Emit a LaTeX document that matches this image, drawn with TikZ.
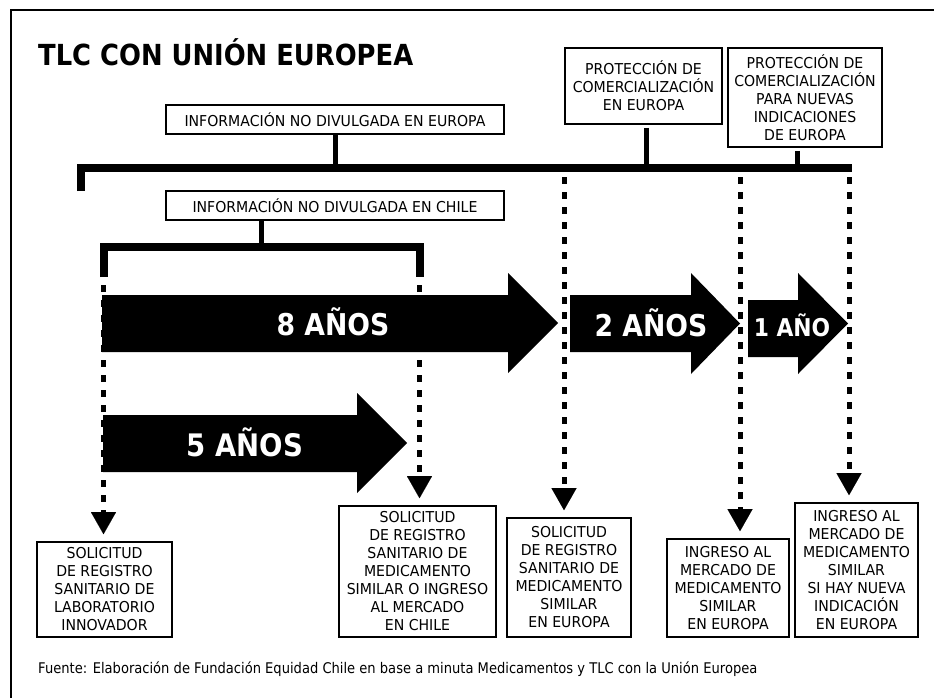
\documentclass[tikz,border=0pt]{standalone}
\usepackage{fontspec}
\setmainfont{DejaVu Sans}[FakeStretch=0.94]
\newfontfamily\narrowfont{DejaVu Sans}[FakeStretch=0.89]
\usetikzlibrary{arrows.meta,calc}
\begin{document}
\begin{tikzpicture}[x=1pt,y=-1pt,
  box/.style={draw,line width=1.6pt,inner sep=0pt,align=center,font=\fontsize{15}{18}\selectfont},
  bar/.style={line width=8pt,line join=miter},
  stem/.style={line width=5pt},
  dotline/.style={line width=5pt,dash pattern=on 7pt off 8pt,
     -{Triangle[width=25pt,length=22pt,line width=0.01pt]},shorten >=7pt},
  bigarrow/.style={fill=black},
  arrowlabel/.style={text=white,anchor=base,inner sep=0pt}]
\useasboundingbox (0,0) rectangle (934,698);
\fill[white] (0,0) rectangle (934,698);
% frame
\draw[line width=2pt] (10.5,698) -- (10.5,10.5) -- (934,10.5);
% title
\node[anchor=base west,inner sep=0pt,font=\narrowfont\bfseries\fontsize{29}{29}\selectfont] (title) at (38,66) {TLC CON UNIÓN EUROPEA};
% upper boxes
\node[box,minimum width=338pt,minimum height=29pt] (ieu) at (335,119.5) {INFORMACIÓN NO DIVULGADA EN EUROPA};
\node[box,minimum width=338pt,minimum height=29pt] (ich) at (335,205.5) {INFORMACIÓN NO DIVULGADA EN CHILE};
\node[box,minimum width=157pt,minimum height=76pt] (pce) at (643.5,86) {PROTECCIÓN DE\\COMERCIALIZACIÓN\\EN EUROPA};
\node[box,minimum width=154pt,minimum height=99pt] (pni) at (805,97.5) {PROTECCIÓN DE\\COMERCIALIZACIÓN\\PARA NUEVAS\\INDICACIONES\\DE EUROPA};
% bottom boxes
\node[box,minimum width=135pt,minimum height=95pt] (b1) at (104.5,589.5) {SOLICITUD\\DE REGISTRO\\SANITARIO DE\\LABORATORIO\\INNOVADOR};
\node[box,minimum width=157pt,minimum height=131pt] (b2) at (417.5,571.5) {SOLICITUD\\DE REGISTRO\\SANITARIO DE\\MEDICAMENTO\\SIMILAR O INGRESO\\AL MERCADO\\EN CHILE};
\node[box,minimum width=124pt,minimum height=119pt] (b3) at (569,577.5) {SOLICITUD\\DE REGISTRO\\SANITARIO DE\\MEDICAMENTO\\SIMILAR\\EN EUROPA};
\node[box,minimum width=122pt,minimum height=98pt] (b4) at (728,588) {INGRESO AL\\MERCADO DE\\MEDICAMENTO\\SIMILAR\\EN EUROPA};
\node[box,minimum width=123pt,minimum height=134pt] (b5) at (856.5,570) {INGRESO AL\\MERCADO DE\\MEDICAMENTO\\SIMILAR\\SI HAY NUEVA\\INDICACIÓN\\EN EUROPA};
% Europe bracket
\coordinate (eubarL) at (80.5,191);
\coordinate (eubarC) at (80.5,168);
\coordinate (eubarR) at (852,168);
\draw[bar] (eubarL) -- (eubarC) -- (eubarR);
\draw[stem] (ieu.south) -- (ieu.south |- eubarC);
\coordinate (pces) at ($(pce.south)+(2.5,3)$);
\draw[stem] (pces) -- (pces |- eubarC);
\coordinate (pnis) at ($(pni.south)+(-7.5,3)$);
\draw[stem] (pnis) -- (pnis |- eubarC);
% Chile bracket
\coordinate (chL) at (103.5,277);
\coordinate (chLt) at (103.5,247);
\coordinate (chRt) at (419.5,247);
\coordinate (chR) at (419.5,277);
\draw[bar] (chL) -- (chLt) -- (chRt) -- (chR);
\coordinate (ichs) at ($(ich.south)+(-74,0)$);
\draw[stem] (ichs) -- (ichs |- chLt);
% dotted connectors
\coordinate (d1) at ($(chL)+(0,8)$);
\coordinate (d2) at ($(chR)+(0,8)$);
\coordinate (d3) at (564,177);
\coordinate (d4) at (740,177);
\coordinate (d5) at (849,177);
\draw[dotline] (d1) -- (d1 |- b1.north);
\draw[dotline] (d2) -- (d2 |- b2.north);
\draw[dotline] (d3) -- (d3 |- b3.north);
\draw[dotline] (d4) -- (d4 |- b4.north);
\draw[dotline] (d5) -- (d5 |- b5.north);
% big arrows
\fill[bigarrow] (102,295) -- (508,295) -- (508,273) -- (558,323) -- (508,373) -- (508,352) -- (102,352) -- cycle;
\node[arrowlabel,font=\narrowfont\bfseries\fontsize{30}{30}\selectfont] (a8) at (333,335) {8 AÑOS};
\fill[bigarrow] (103,415) -- (357,415) -- (357,393) -- (407,443) -- (357,493) -- (357,472) -- (103,472) -- cycle;
\node[arrowlabel,font=\narrowfont\bfseries\fontsize{31}{31}\selectfont] (a5) at (245,456) {5 AÑOS};
\fill[bigarrow] (570,295) -- (691,295) -- (691,273) -- (740,323.5) -- (691,374) -- (691,352) -- (570,352) -- cycle;
\node[arrowlabel,font=\narrowfont\bfseries\fontsize{30}{30}\selectfont] (a2) at (651,336) {2 AÑOS};
\fill[bigarrow] (748,300) -- (798,300) -- (798,273) -- (848,323.5) -- (798,374) -- (798,357) -- (748,357) -- cycle;
\node[arrowlabel,font=\narrowfont\bfseries\fontsize{24.5}{24.5}\selectfont] (a1) at (792,336) {1 AÑO};
% source
\node[anchor=base west,inner sep=0pt,font=\narrowfont\fontsize{14.7}{14.7}\selectfont] (src) at (38,673) {Fuente: Elaboración de Fundación Equidad Chile en base a minuta Medicamentos y TLC con la Unión Europea};
\end{tikzpicture}
\end{document}
